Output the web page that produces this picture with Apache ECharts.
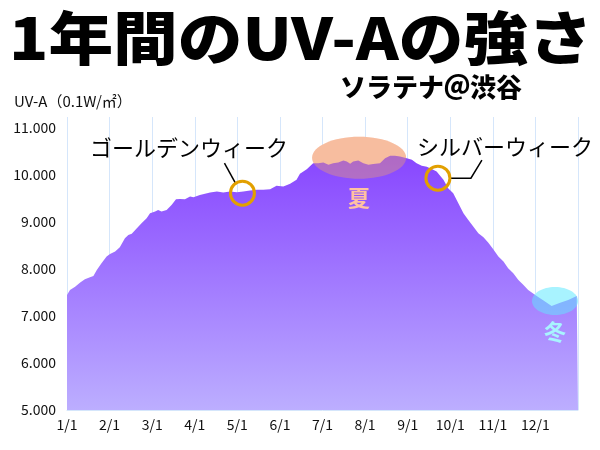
<!DOCTYPE html>
<html><head><meta charset="utf-8">
<script src="https://cdn.jsdelivr.net/npm/echarts@6/dist/echarts.min.js"></script>
<style>html,body{margin:0;padding:0;background:#fff}#c{width:600px;height:450px}</style>
</head><body><div id="c"></div>
<script>
// x axis tick labels (month starts)
const xLabels = ['1/1','2/1','3/1','4/1','5/1','6/1','7/1','8/1','9/1','10/1','11/1','12/1'];
// y axis ticks
const yTicks = [5000, 6000, 7000, 8000, 9000, 10000, 11000];
// position in months from 1/1
const monthPos = [0,0.07,0.19,0.31,0.42,0.54,0.62,0.70,0.81,0.93,1.01,1.13,1.24,1.36,1.44,1.52,1.64,1.75,1.87,1.95,
  2.07,2.14,2.22,2.34,2.46,2.56,2.65,2.77,2.89,2.97,3.12,3.36,3.52,3.67,3.83,3.99,4.14,4.30,4.46,4.61,4.77,4.92,
  5.08,5.24,5.39,5.47,5.63,5.78,5.90,6.02,6.14,6.25,6.37,6.49,6.57,6.65,6.72,6.84,6.96,7.08,7.19,7.35,7.47,7.59,
  7.70,7.82,7.98,8.10,8.21,8.33,8.45,8.60,8.68,8.84,8.95,9.07,9.19,9.31,9.42,9.54,9.66,9.78,9.89,10.01,10.13,
  10.25,10.36,10.48,10.60,10.72,10.83,11.03,11.19,11.38,11.58,11.77,11.97,12.0];
// UV-A (0.1 W/m2)
const uvValues = [7447,7553,7623,7709,7781,7823,7851,7979,8121,8262,8319,8368,8462,8653,8723,8745,8866,8972,9079,9185,
  9219,9255,9219,9255,9362,9483,9489,9483,9540,9526,9574,9623,9645,9623,9645,9630,9645,9666,9681,9681,9696,9766,
  9751,9809,9894,10021,10121,10245,10249,10262,10213,10249,10262,10304,10283,10234,10283,10304,10249,10213,10228,10249,10355,10404,
  10404,10389,10355,10319,10249,10191,10170,10106,10070,9894,9717,9611,9398,9185,9043,8900,8760,8674,8560,8419,8262,
  8155,8015,7909,7766,7660,7553,7426,7326,7213,7283,7340,7426,7430];
// annotation anchors [month, value]
const gwPoint = [4.12, 9611];
const swPoint = [8.71, 9930];
const summerPoint = [6.86, 10362];
const winterPoint = [11.46, 7319];

const FONT = '"Noto Sans CJK JP", "Noto Sans", sans-serif';
const chart = echarts.init(document.getElementById('c'), null, {renderer: 'canvas'});
const data = monthPos.map((m, i) => [m, uvValues[i]]);
const gridColor = '#d5e6fb';

chart.setOption({
  animation: false,
  backgroundColor: '#fff',
  grid: {left: 67, right: 22, top: 117, bottom: 40},
  xAxis: {
    type: 'value', min: 0, max: 12, interval: 1,
    axisLine: {show: true, lineStyle: {color: gridColor}},
    axisTick: {show: false},
    splitLine: {show: true, lineStyle: {color: gridColor, width: 1}},
    axisLabel: {color: '#111', fontSize: 14, fontFamily: FONT, margin: 8,
      formatter: v => (v < 12 ? xLabels[Math.round(v)] : '')}
  },
  yAxis: {
    type: 'value', min: yTicks[0], max: 11230, interval: 1000,
    axisLine: {show: false}, axisTick: {show: false}, splitLine: {show: false},
    axisLabel: {color: '#111', fontSize: 14, fontFamily: FONT, margin: 11,
      formatter: v => (yTicks.indexOf(v) >= 0 ? (v / 1000) + '.000' : '')}
  },
  series: [{
    type: 'line', data: data, showSymbol: false, smooth: false,
    lineStyle: {width: 0}, z: 2,
    areaStyle: {opacity: 1, color: new echarts.graphic.LinearGradient(0, 0, 0, 1, [
      {offset: 0, color: '#8846ff'}, {offset: 1, color: '#bcaeff'}])}
  }]
});

const p = pt => chart.convertToPixel({gridIndex: 0}, pt);
const gw = p(gwPoint), sw = p(swPoint), su = p(summerPoint), wi = p(winterPoint);
const ring = '#e2a000';

chart.setOption({
  graphic: [
    {type: 'text', z: 20, x: 9, y: 38, scaleX: 1.135, scaleY: 1.02,
      style: {x: 0, y: 0, text: '1年間のUV-Aの強さ', fill: '#000',
      font: '900 57px ' + FONT, textVerticalAlign: 'middle'}},
    {type: 'text', z: 20, style: {x: 340, y: 87, text: 'ソラテナ＠渋谷', fill: '#000',
      font: '900 26px ' + FONT, textVerticalAlign: 'middle'}},
    {type: 'text', z: 20, style: {x: 14, y: 101, text: 'UV-A（0.1W/㎡）', fill: '#111',
      font: '15px ' + FONT, textVerticalAlign: 'middle'}},
    // summer
    {type: 'ellipse', z: 1, shape: {cx: su[0], cy: su[1], rx: 47, ry: 21}, style: {fill: '#ffd0c0'}},
    {type: 'ellipse', z: 10, shape: {cx: su[0], cy: su[1], rx: 47, ry: 21}, style: {fill: 'rgba(235,160,110,0.4)'}},
    {type: 'text', z: 20, style: {x: su[0], y: su[1] + 40, text: '夏', fill: '#ffc2a2',
      font: 'bold 22px ' + FONT, textAlign: 'center', textVerticalAlign: 'middle'}},
    // winter
    {type: 'ellipse', z: 1, shape: {cx: wi[0], cy: wi[1], rx: 23, ry: 14}, style: {fill: '#f0ffff'}},
    {type: 'ellipse', z: 10, shape: {cx: wi[0], cy: wi[1], rx: 23, ry: 14}, style: {fill: 'rgba(96,232,255,0.5)'}},
    {type: 'text', z: 20, style: {x: wi[0], y: wi[1] + 31, text: '冬', fill: '#a8f4ff',
      font: 'bold 22px ' + FONT, textAlign: 'center', textVerticalAlign: 'middle'}},
    // golden week
    {type: 'text', z: 20, style: {x: 90, y: 148, text: 'ゴールデンウィーク', fill: '#000',
      font: '22px ' + FONT, textVerticalAlign: 'middle'}},
    {type: 'polyline', z: 20, shape: {points: [[gw[0] - 18, gw[1] - 30], [gw[0] - 7, gw[1] - 10]]},
      style: {stroke: '#000', lineWidth: 1.5, fill: null}},
    {type: 'circle', z: 21, shape: {cx: gw[0], cy: gw[1], r: 12}, style: {fill: null, stroke: ring, lineWidth: 3}},
    // silver week
    {type: 'text', z: 20, style: {x: 417, y: 147, text: 'シルバーウィーク', fill: '#000',
      font: '22px ' + FONT, textVerticalAlign: 'middle'}},
    {type: 'polyline', z: 20, shape: {points: [[sw[0] + 12, sw[1]], [sw[0] + 33, sw[1]], [sw[0] + 44, sw[1] - 18]]},
      style: {stroke: '#000', lineWidth: 1.5, fill: null}},
    {type: 'circle', z: 21, shape: {cx: sw[0], cy: sw[1], r: 12}, style: {fill: null, stroke: ring, lineWidth: 3}}
  ]
});
</script></body></html>
